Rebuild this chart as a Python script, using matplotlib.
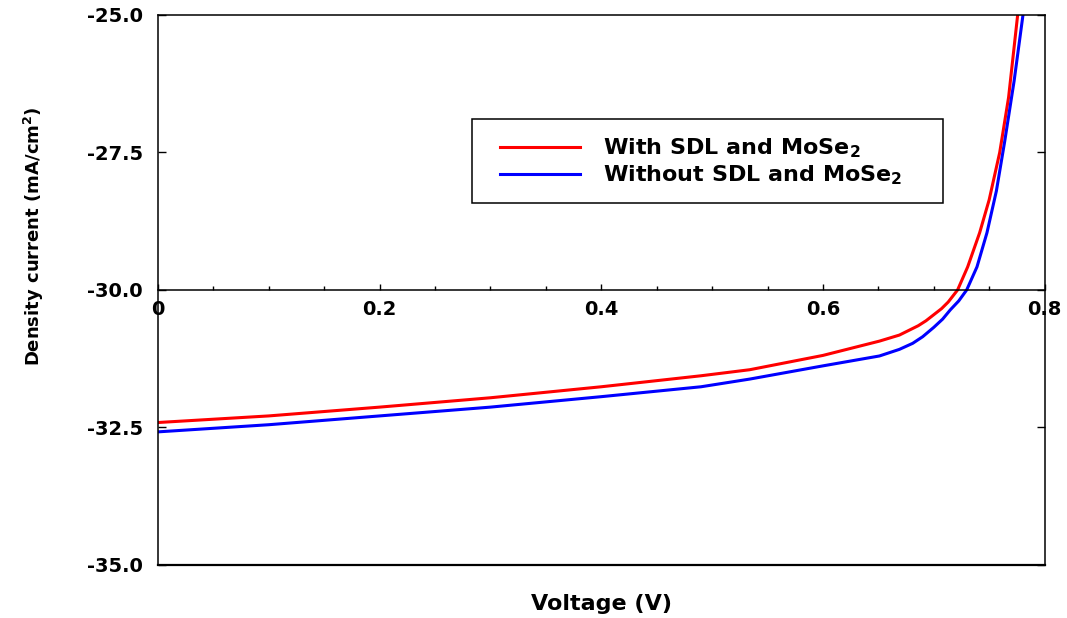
import numpy as np
import matplotlib
matplotlib.use("Agg")
import matplotlib.pyplot as plt
from matplotlib.patches import Rectangle
from matplotlib.ticker import MultipleLocator, FormatStrFormatter

plt.rcParams["font.family"] = ["DejaVu Sans"]
plt.rcParams["font.weight"] = "bold"
plt.rcParams["mathtext.fontset"] = "custom"
plt.rcParams["mathtext.rm"] = "DejaVu Sans:bold"
plt.rcParams["mathtext.it"] = "DejaVu Sans:bold"
plt.rcParams["mathtext.bf"] = "DejaVu Sans:bold"

# J-V curves
v_with = [0.0, 0.1, 0.2, 0.3, 0.4, 0.49, 0.534, 0.6, 0.651, 0.669, 0.686,
          0.693, 0.70, 0.707, 0.713, 0.7215, 0.7306, 0.7414, 0.75, 0.7595,
          0.7675, 0.7757, 0.78]
j_with = [-32.41, -32.29, -32.13, -31.96, -31.76, -31.56, -31.45, -31.19,
          -30.93, -30.82, -30.65, -30.56, -30.45, -30.34, -30.22, -30.0,
          -29.58, -28.96, -28.36, -27.5, -26.5, -25.0, -24.3]

v_without = [0.0, 0.1, 0.2, 0.3, 0.4, 0.49, 0.534, 0.6, 0.651, 0.669, 0.681,
             0.69, 0.70, 0.708, 0.715, 0.7225, 0.7297, 0.7390, 0.7480, 0.7565,
             0.7640, 0.7725, 0.7805, 0.785]
j_without = [-32.58, -32.45, -32.29, -32.13, -31.94, -31.76, -31.62, -31.38,
             -31.2, -31.08, -30.97, -30.85, -30.68, -30.53, -30.36, -30.2,
             -30.0, -29.58, -28.96, -28.2, -27.3, -26.2, -25.0, -24.4]

labels = [r"With SDL and MoSe$_2$", r"Without SDL and MoSe$_2$"]
colors = ["#ff0000", "#0000ff"]

fig = plt.figure(figsize=(10.67, 6.18), dpi=100)
ax = fig.add_axes([0.148, 0.0858, 0.831, 0.890])

ax.plot(v_with, j_with, color=colors[0], lw=2.2)
ax.plot(v_without, j_without, color=colors[1], lw=2.2)

ax.set_xlim(0, 0.8)
ax.set_ylim(-35, -25)

# x axis sits on the -30 line, frame closed by a line at -35
ax.spines["bottom"].set_position(("data", -30))
for s in ax.spines.values():
    s.set_linewidth(1.1)
ax.axhline(-35, color="black", lw=1.6, clip_on=False, zorder=3)

ax.xaxis.set_major_locator(MultipleLocator(0.2))
ax.xaxis.set_minor_locator(MultipleLocator(0.05))
ax.xaxis.set_major_formatter(lambda x, pos: "0" if abs(x) < 1e-9 else f"{x:.1f}")
ax.yaxis.set_major_locator(MultipleLocator(2.5))
ax.yaxis.set_major_formatter(FormatStrFormatter("%.1f"))

ax.tick_params(axis="x", which="major", direction="in", length=4, width=1.0,
               pad=7, labelsize=14)
ax.tick_params(axis="x", which="minor", direction="in", length=3, width=1.0)
ax.tick_params(axis="y", which="major", direction="in", length=6, width=1.0,
               pad=11, labelsize=14, right=True)

ax.set_xlabel("Voltage (V)", fontsize=16, fontweight="bold")
ax.set_ylabel(r"Density current (mA/cm$^2$)", fontsize=13, fontweight="bold")
ax.xaxis.set_label_coords(0.5, -0.052)
ax.yaxis.set_label_coords(-0.126, 0.598)

# legend box drawn by hand to match the original placement
ax.add_patch(Rectangle((0.354, 0.658), 0.531, 0.153, transform=ax.transAxes,
                       facecolor="white", edgecolor="black", lw=1.1, zorder=4))
for i, (lab, col) in enumerate(zip(labels, colors)):
    ly = 0.76 - i * 0.049
    ax.plot([0.3856, 0.4758], [ly, ly], transform=ax.transAxes, color=col,
            lw=2.2, zorder=5)
    ax.text(0.5017, ly - 0.013, lab, transform=ax.transAxes, fontsize=16,
            fontweight="bold", va="baseline", ha="left", zorder=5)

fig.savefig("out.png", dpi=100)
